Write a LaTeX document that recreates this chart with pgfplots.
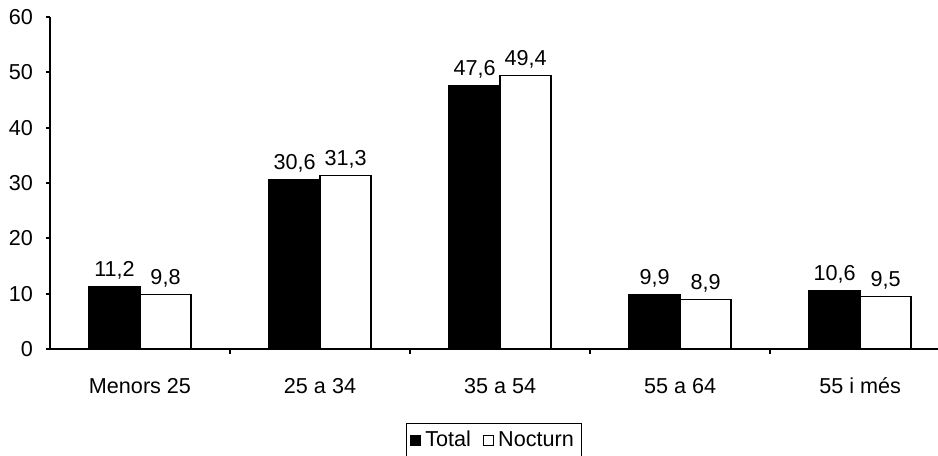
\documentclass[border=0pt]{standalone}
\usepackage{pgfplots}
\pgfplotsset{compat=1.18}
\usepackage{fontspec}
\setmainfont{Liberation Sans}
\begin{document}
\begin{tikzpicture}
\begin{axis}[
  scale only axis,
  width=444pt, height=166pt,
  ybar, bar width=25.5pt,
  ymin=0, ymax=60, ytick={0,10,...,60},
  xmin=-0.5, xmax=4.433,
  xtick={0,1,2,3,4},
  xticklabels={Menors 25, 25 a 34, 35 a 54, 55 a 64, 55 i més},
  minor xtick={0.5,1.5,2.5,3.5},
  axis x line*=bottom, axis y line*=left,
  axis line style={line width=0.9pt, -},
  tick align=outside,
  major x tick style={draw=none},
  minor tick length=2.5pt, major tick length=2pt,
  every tick/.style={black, line width=0.9pt},
  tick label style={font=\fontsize{10.8}{12}\selectfont},
  xticklabel style={yshift=-8.5pt, text height=8pt, text depth=2pt},
  yticklabel style={xshift=-3pt},
  /pgf/number format/assume math mode=true,
  nodes near coords,
  nodes near coords style={font=\fontsize{10.8}{12}\selectfont, /pgf/number format/.cd, fixed, fixed zerofill, precision=1, use comma, assume math mode=true},
  legend style={at={(0.5,-0.222)}, anchor=north, draw=black, line width=0.6pt, font=\fontsize{10.8}{12}\selectfont, legend columns=2, inner sep=2pt, /tikz/every even column/.append style={column sep=4pt}},
  legend image code/.code={\draw[#1, line width=0.6pt] (0pt,-2.5pt) rectangle (5pt,2.5pt);},
  clip=false,
]
\addplot[fill=black, draw=black, line width=0.6pt, bar shift=-12.75pt] coordinates {(0,11.2) (1,30.6) (2,47.6) (3,9.9) (4,10.6)};
\addplot[fill=white, draw=black, line width=0.6pt, bar shift=12.75pt] coordinates {(0,9.8) (1,31.3) (2,49.4) (3,8.9) (4,9.5)};
\legend{Total, Nocturn}
\coordinate (bl) at (axis description cs:-0.0563,-0.3223);
\coordinate (tr) at (axis description cs:1,1.0512);
\end{axis}
\pgfresetboundingbox
\path[use as bounding box] (bl) rectangle (tr);
\end{tikzpicture}
\end{document}
